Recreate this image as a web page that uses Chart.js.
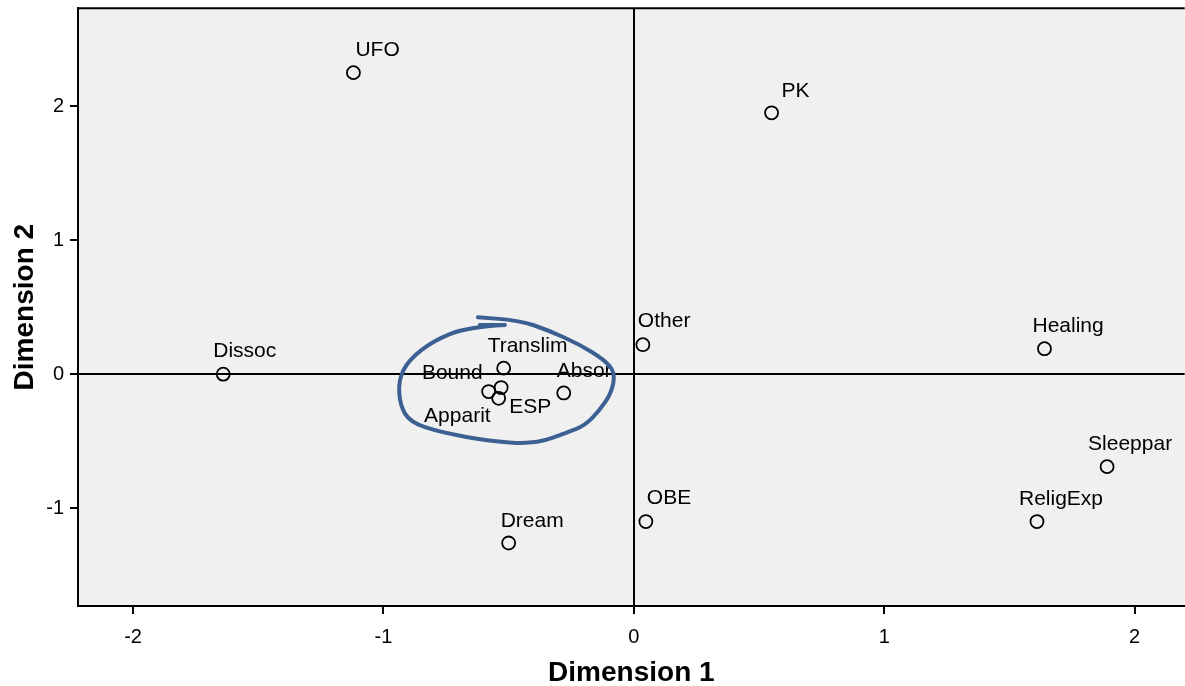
<!DOCTYPE html>
<html>
<head>
<meta charset="utf-8" />
<title>Dimension 1 vs Dimension 2</title>
<script src="https://cdn.jsdelivr.net/npm/chart.js@4/dist/chart.umd.min.js"></script>
<style>
  html, body { margin: 0; padding: 0; background: #fff; overflow: hidden; }
  /* plot runs past the right edge of the window, as in the original */
  #wrap { width: 1193px; height: 686px; }
</style>
</head>
<body>
<div id="wrap"><canvas id="c"></canvas></div>
<script>
// item labels and their coordinates on the two dimensions
const labels = ['UFO', 'PK', 'Dissoc', 'Translim', 'Bound', 'ESP', 'Apparit', 'Absor',
                'Other', 'Healing', 'Sleeppar', 'ReligExp', 'OBE', 'Dream'];
const dim1 = [-1.12, 0.55, -1.64, -0.52, -0.58, -0.53, -0.54, -0.28, 0.036, 1.64, 1.89, 1.61, 0.048, -0.50];
const dim2 = [2.25, 1.95, 0.00, 0.045, -0.13, -0.10, -0.18, -0.14, 0.22, 0.19, -0.69, -1.10, -1.10, -1.26];

const xTicks = [-2, -1, 0, 1, 2];
const yTicks = [-1, 0, 1, 2];

// hand drawn loop around the cluster (in data units)
const loopX = [-0.615, -0.515, -0.665, -0.800, -0.900, -0.940, -0.934, -0.894, -0.774, -0.575, -0.395,
               -0.263, -0.196, -0.136, -0.088, -0.075, -0.120, -0.220, -0.345, -0.455, -0.623];
const loopY = [0.366, 0.366, 0.350, 0.250, 0.104, -0.045, -0.231, -0.358, -0.433, -0.5, -0.522,
               -0.433, -0.383, -0.269, -0.134, 0.015, 0.110, 0.225, 0.330, 0.400, 0.425];

const FONT = 'Arial, "Liberation Sans", sans-serif';

// label offsets in px relative to the point (edge / vertical centre)
const labelPos = {
  UFO: [2, -22, 'left'], PK: [10, -22, 'left'], Dissoc: [-10, -23, 'left'],
  Translim: [-16, -22, 'left'], Bound: [-6, -18, 'right'], ESP: [8, 20, 'left'],
  Apparit: [-8, 18, 'right'], Absor: [-7, -22, 'left'], Other: [-5, -23, 'left'],
  Healing: [-12, -22, 'left'], Sleeppar: [-19, -22, 'left'], ReligExp: [-18, -22, 'left'],
  OBE: [1, -23, 'left'], Dream: [-8, -22, 'left']
};

const bgPlugin = {
  id: 'bg',
  beforeDraw(chart) {
    const a = chart.chartArea, ctx = chart.ctx;
    ctx.save();
    ctx.fillStyle = '#f0f0f0';
    ctx.fillRect(a.left, a.top, a.right - a.left, a.bottom - a.top);
    ctx.restore();
  },
  afterDraw(chart) {
    const a = chart.chartArea, ctx = chart.ctx;
    ctx.save();
    ctx.strokeStyle = '#000';
    ctx.lineWidth = 2;
    ctx.beginPath();
    ctx.moveTo(a.left, a.top);
    ctx.lineTo(a.right, a.top);
    ctx.stroke();
    ctx.restore();
  }
};

const labelPlugin = {
  id: 'ptlabels',
  afterDatasetsDraw(chart) {
    const ctx = chart.ctx;
    const meta = chart.getDatasetMeta(0);
    ctx.save();
    ctx.font = '21px ' + FONT;
    ctx.fillStyle = '#000';
    ctx.textBaseline = 'middle';
    meta.data.forEach((pt, i) => {
      const p = labelPos[labels[i]];
      ctx.textAlign = p[2];
      ctx.fillText(labels[i], pt.x + p[0], pt.y + p[1]);
    });
    // the loop, smoothed through midpoints
    const xs = chart.scales.x, ys = chart.scales.y;
    const pts = loopX.map((v, i) => [xs.getPixelForValue(v), ys.getPixelForValue(loopY[i])]);
    ctx.strokeStyle = '#3d6093';
    ctx.lineWidth = 4;
    ctx.lineJoin = 'round';
    ctx.lineCap = 'round';
    ctx.beginPath();
    ctx.moveTo(pts[0][0], pts[0][1]);
    ctx.lineTo(pts[1][0], pts[1][1]);
    for (let i = 2; i < pts.length - 1; i++) {
      const mx = (pts[i][0] + pts[i + 1][0]) / 2, my = (pts[i][1] + pts[i + 1][1]) / 2;
      ctx.quadraticCurveTo(pts[i][0], pts[i][1], mx, my);
    }
    const last = pts[pts.length - 1];
    ctx.lineTo(last[0], last[1]);
    ctx.stroke();
    ctx.restore();
  }
};

new Chart(document.getElementById('c'), {
  type: 'scatter',
  data: {
    datasets: [{
      data: dim1.map((v, i) => ({ x: v, y: dim2[i] })),
      pointRadius: 6.5,
      pointHoverRadius: 6.5,
      pointBackgroundColor: 'rgba(0,0,0,0)',
      pointBorderColor: '#000',
      pointBorderWidth: 1.8
    }]
  },
  options: {
    responsive: true,
    maintainAspectRatio: false,
    animation: false,
    layout: { padding: { top: 8, right: 0, left: 0, bottom: 0 } },
    plugins: { legend: { display: false }, tooltip: { enabled: false } },
    scales: {
      x: {
        min: -2.22, max: 2.2,
        afterBuildTicks: s => { s.ticks = xTicks.map(v => ({ value: v })); },
        afterFit: s => { s.height = 80; s.paddingLeft = 0; s.paddingRight = 0; },
        ticks: { font: { size: 20, family: FONT }, color: '#000', padding: 11, maxRotation: 0 },
        grid: {
          color: c => (c.tick && c.tick.value === 0) ? '#000' : 'rgba(0,0,0,0)',
          lineWidth: 2, tickColor: '#000', tickLength: 8, tickWidth: 2
        },
        border: { display: true, color: '#000', width: 2 },
        title: { display: true, text: 'Dimension 1', color: '#000',
                 font: { size: 28, weight: 'bold', family: FONT }, padding: { top: 4, bottom: -4 } }
      },
      y: {
        min: -1.73, max: 2.73,
        afterBuildTicks: s => { s.ticks = yTicks.map(v => ({ value: v })); },
        afterFit: s => { s.width = 78; s.paddingTop = 0; s.paddingBottom = 0; },
        ticks: { font: { size: 20, family: FONT }, color: '#000', padding: 6 },
        grid: {
          color: c => (c.tick && c.tick.value === 0) ? '#000' : 'rgba(0,0,0,0)',
          lineWidth: 2, tickColor: '#000', tickLength: 8, tickWidth: 2
        },
        border: { display: true, color: '#000', width: 2 },
        title: { display: true, text: 'Dimension 2', color: '#000',
                 font: { size: 28, weight: 'bold', family: FONT }, padding: { top: 8, bottom: 4 } }
      }
    }
  },
  plugins: [bgPlugin, labelPlugin]
});
</script>
</body>
</html>
